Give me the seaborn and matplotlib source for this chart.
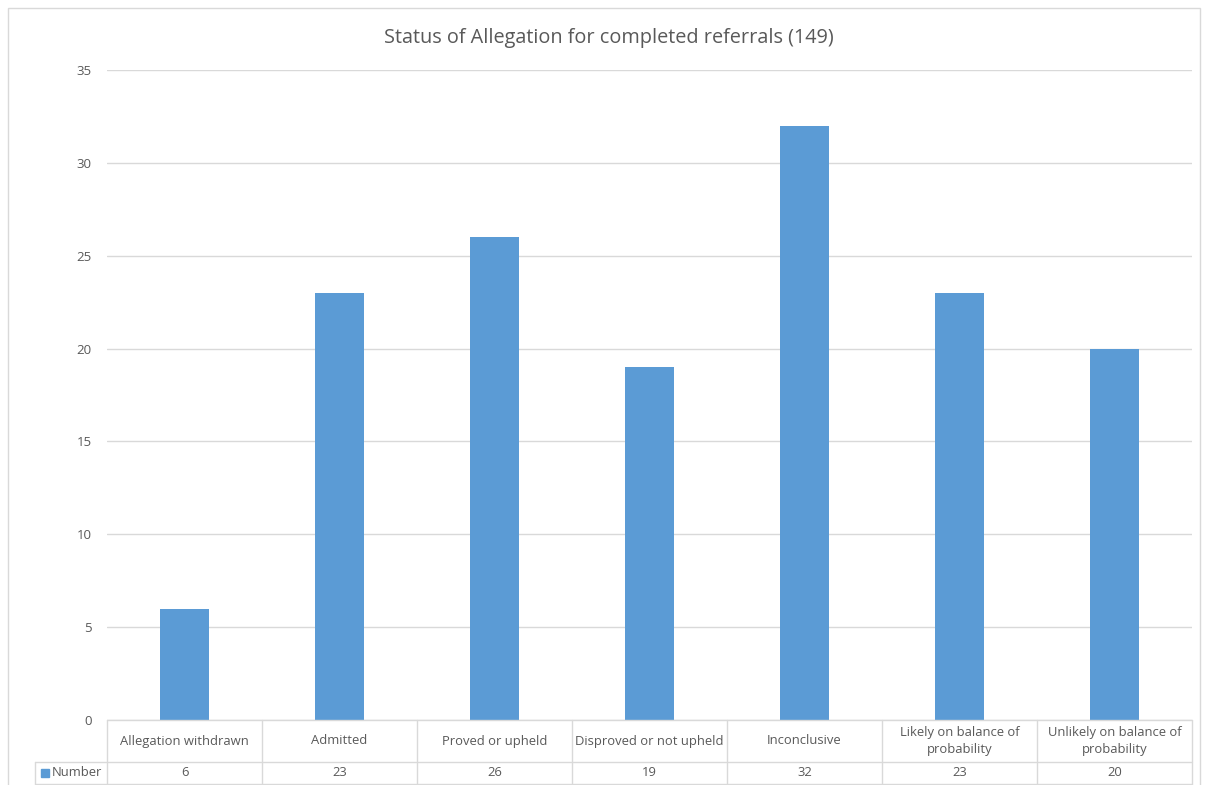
import matplotlib
matplotlib.use("Agg")
import matplotlib.pyplot as plt
import seaborn as sns
import pandas as pd
from matplotlib.patches import Rectangle

# chart data
categories = [
    "Allegation withdrawn",
    "Admitted",
    "Proved or upheld",
    "Disproved or not upheld",
    "Inconclusive",
    "Likely on balance of\nprobability",
    "Unlikely on balance of\nprobability",
]
numbers = [6, 23, 26, 19, 32, 23, 20]
series_name = "Number"
y_ticks = [0, 5, 10, 15, 20, 25, 30, 35]

bar_color = "#5B9BD5"
grid_color = "#D9D9D9"
text_color = "#595959"

sns.set_theme(style="white")
plt.rcParams["font.family"] = ["Open Sans", "DejaVu Sans"]

df = pd.DataFrame({"category": categories, "value": numbers})

fig = plt.figure(figsize=(12.05, 7.85), dpi=100)
ax = fig.add_axes([107 / 1205, 65 / 785, 1085 / 1205, 650 / 785])

sns.barplot(data=df, x="category", y="value", color=bar_color, width=0.31,
            saturation=1, linewidth=0, ax=ax)

ax.set_xlim(-0.5, len(categories) - 0.5)
ax.set_ylim(0, 35)
ax.set_yticks(y_ticks)
ax.yaxis.grid(True, color=grid_color, linewidth=1)
ax.set_axisbelow(True)
for s in ax.spines.values():
    s.set_visible(False)
ax.tick_params(axis="y", length=0, pad=11, labelsize=9.5, labelcolor=text_color)
ax.set_xticks([])
ax.set_xlabel("")
ax.set_ylabel("")
fig.text(0.505, 1 - 38 / 785, "Status of Allegation for completed referrals (149)",
         ha="center", va="center", fontsize=14.3, color=text_color)

# data table under the plot
tr = ax.get_xaxis_transform()
row1 = -42 / 650
row2 = -64 / 650
left_label = -0.5 - 72 / 155
n = len(categories)
line_kw = dict(transform=tr, clip_on=False, color=grid_color, lw=1)

ax.plot([-0.5, n - 0.5], [0, 0], **line_kw)
ax.plot([left_label, n - 0.5], [row1, row1], **line_kw)
ax.plot([left_label, n - 0.5], [row2, row2], **line_kw)
ax.plot([left_label, left_label], [row1, row2], **line_kw)
for i in range(n + 1):
    ax.plot([i - 0.5, i - 0.5], [0, row2], **line_kw)

for i, (cat, val) in enumerate(zip(categories, numbers)):
    ax.text(i, row1 / 2, cat, transform=tr, ha="center", va="center",
            fontsize=9.4, color=text_color, linespacing=1.35)
    ax.text(i, (row1 + row2) / 2, str(val), transform=tr, ha="center",
            va="center", fontsize=9.4, color=text_color)

# legend key in the row label cell
ax.add_patch(Rectangle((left_label + 6 / 155, (row1 + row2) / 2 - 4 / 650),
                       8 / 155, 8 / 650, transform=tr, clip_on=False,
                       color=bar_color))
ax.text(left_label + 17 / 155, (row1 + row2) / 2, series_name, transform=tr,
        ha="left", va="center", fontsize=9.4, color=text_color)

# chart border
fig.patches.append(Rectangle((8 / 1205, -0.01), 1192 / 1205, 777 / 785 + 0.01,
                             transform=fig.transFigure, fill=False,
                             edgecolor=grid_color, lw=1))

fig.savefig("out.png", dpi=100)
